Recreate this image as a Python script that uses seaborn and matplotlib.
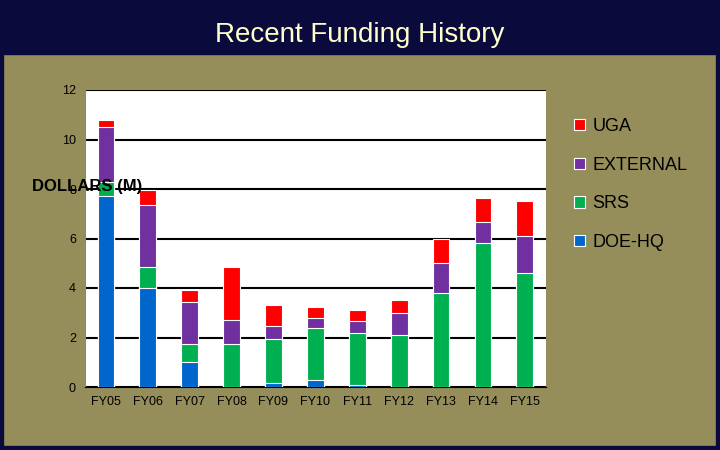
import matplotlib
matplotlib.use("Agg")
import matplotlib.pyplot as plt
import seaborn as sns
import pandas as pd
from matplotlib.patches import Rectangle

years = ["FY05","FY06","FY07","FY08","FY09","FY10","FY11","FY12","FY13","FY14","FY15"]
doe_hq   = [7.7, 4.0, 1.0, 0.0, 0.15, 0.3, 0.1, 0.0, 0.0, 0.0, 0.0]
srs      = [0.6, 0.85, 0.75, 1.75, 1.8, 2.1, 2.1, 2.1, 3.8, 5.8, 4.6]
external = [2.2, 2.5, 1.7, 0.95, 0.5, 0.4, 0.45, 0.9, 1.2, 0.85, 1.5]
uga      = [0.3, 0.6, 0.45, 2.15, 0.85, 0.45, 0.45, 0.5, 1.0, 1.0, 1.4]

series = [("DOE-HQ", doe_hq, "#0066CC"), ("SRS", srs, "#00B050"),
          ("EXTERNAL", external, "#7030A0"), ("UGA", uga, "#FF0000")]

sns.set_style("white")
plt.rcParams['font.family'] = ['Liberation Sans', 'DejaVu Sans']

fig = plt.figure(figsize=(7.2, 4.5), dpi=100)
fig.patch.set_facecolor("#958E5A")
fig.patches.append(Rectangle((0, 0.88), 1, 0.12, transform=fig.transFigure, color="#0A0A3C", zorder=0))
fig.patches.append(Rectangle((0, 0), 1, 1, transform=fig.transFigure, fill=False, ec="#0A0A3C", lw=6, zorder=0))
fig.text(0.5, 0.922, "Recent Funding History", ha="center", va="center", color="#FFFFCC", fontsize=20)

ax = fig.add_axes([0.118, 0.14, 0.64, 0.66])
ax.set_facecolor("white")

cum = [0.0] * len(years)
layers = []
for name, vals, col in series:
    cum = [c + v for c, v in zip(cum, vals)]
    layers.append((name, list(cum), col))
for name, vals, col in reversed(layers):
    d = pd.DataFrame({"year": years, "v": vals})
    sns.barplot(data=d, x="year", y="v", color=col, ax=ax, width=0.4,
                edgecolor="white", linewidth=0.8, saturation=1, label=name, zorder=3)

h, l = ax.get_legend_handles_labels()
if ax.get_legend() is not None:
    ax.get_legend().remove()

ax.set_ylim(0, 12)
ax.set_yticks(range(0, 13, 2))
ax.yaxis.grid(True, color="black", lw=1.5, zorder=0)
ax.set_xlabel("")
ax.set_ylabel("")
ax.tick_params(axis="both", labelsize=9, length=3, colors="black")
for s in ["top", "right"]:
    ax.spines[s].set_visible(False)
ax.spines["left"].set_color("#888888")
ax.spines["bottom"].set_color("black")
fig.text(0.045, 0.585, "DOLLARS (M)", fontsize=12, fontweight="bold", color="black", va="center")

order = ["UGA", "EXTERNAL", "SRS", "DOE-HQ"]
hd = dict(zip(l, h))
fig.legend([hd[o] for o in order], order, loc="center left", bbox_to_anchor=(0.775, 0.59),
           frameon=False, fontsize=13, handlelength=0.6, handleheight=0.6, labelspacing=1.2,
           handletextpad=0.4, labelcolor="black")

fig.savefig("out.png", dpi=100, facecolor=fig.get_facecolor())
